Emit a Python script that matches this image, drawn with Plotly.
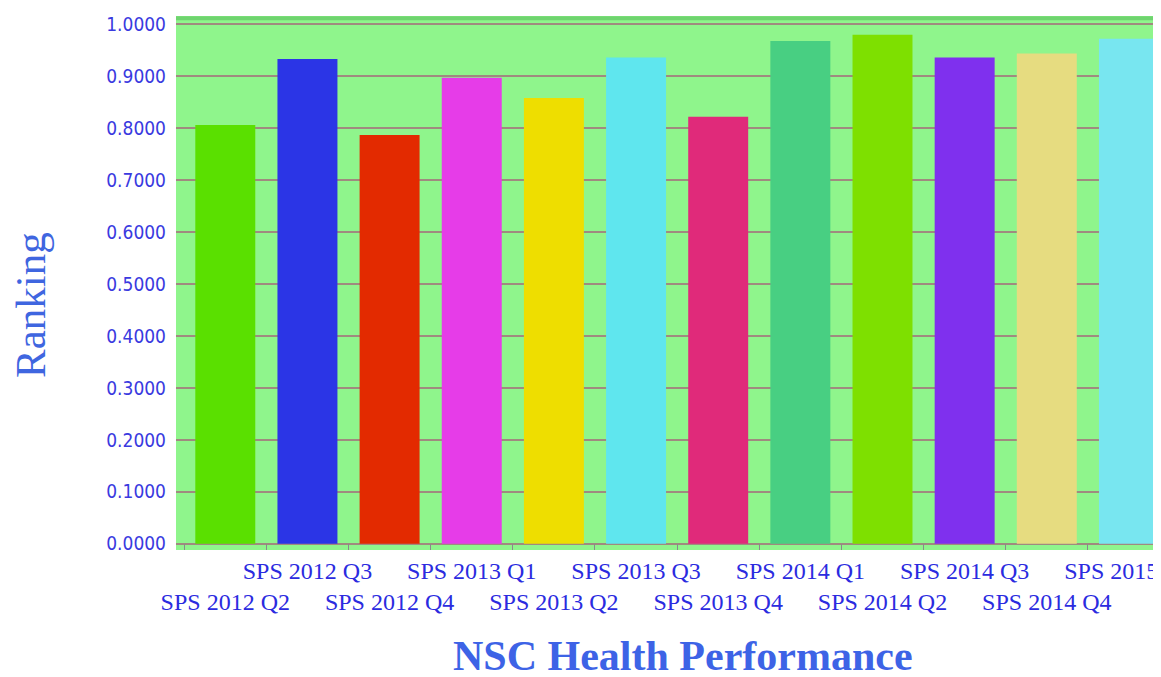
import plotly.graph_objects as go

categories = ["SPS 2012 Q2", "SPS 2012 Q3", "SPS 2012 Q4", "SPS 2013 Q1", "SPS 2013 Q2",
              "SPS 2013 Q3", "SPS 2013 Q4", "SPS 2014 Q1", "SPS 2014 Q2", "SPS 2014 Q3",
              "SPS 2014 Q4", "SPS 2015 Q1"]
ranking = [0.806, 0.933, 0.787, 0.897, 0.858, 0.936, 0.822, 0.968, 0.980, 0.936, 0.944, 0.972]
bar_colors = ["#5ae000", "#2b35e6", "#e32a00", "#e63ce8", "#eede00", "#5fe6ee",
              "#e02a7a", "#48cf82", "#7ee000", "#7f30ee", "#e6dc80", "#78e6f0"]
y_ticks = [0.0, 0.1, 0.2, 0.3, 0.4, 0.5, 0.6, 0.7, 0.8, 0.9, 1.0]

# staggered labels: even index on lower row, odd on upper row
tick_text = [("\u00a0<br>" + c) if i % 2 == 0 else c for i, c in enumerate(categories)]

W, H = 1161, 677
fig = go.Figure()
fig.add_trace(go.Bar(
    x=categories, y=ranking,
    marker=dict(color=bar_colors, line=dict(width=0)),
    showlegend=False,
))

fig.update_layout(
    template="none",
    width=W, height=H,
    margin=dict(l=168, r=8, t=8, b=H - 542, autoexpand=False),
    paper_bgcolor="white",
    plot_bgcolor="#8ff58c",
    bargap=0.27,
    xaxis=dict(
        type="category",
        range=[-0.6, 11.39],
        tickmode="array",
        tickvals=categories,
        ticktext=tick_text,
        tickangle=0,
        tickson="boundaries",
        ticks="inside", ticklen=6, tickcolor="#8a8a8a", tickwidth=1,
        ticklabelstandoff=4,
        showgrid=False, zeroline=False, showline=False,
        automargin=False,
        tickfont=dict(family="Liberation Serif, Times New Roman, serif", size=24, color="#2b2bdf"),
    ),
    yaxis=dict(
        range=[-0.012, 1.016],
        tickmode="array",
        tickvals=y_ticks,
        tickformat=".4f",
        ticks="", ticklabelstandoff=9,
        showgrid=True, gridcolor="#a08a7f", gridwidth=1.5,
        zeroline=False, showline=False,
        automargin=False,
        tickfont=dict(family="DejaVu Sans Condensed, Liberation Sans Narrow, sans-serif", size=19, color="#3a3adf"),
    ),
    annotations=[
        dict(text="<b>NSC Health Performance</b>", xref="paper", yref="paper",
             x=0.515, y=0, xanchor="center", yanchor="middle", yshift=-106, showarrow=False,
             borderpad=0,
             font=dict(family="Liberation Serif, Times New Roman, serif", size=42, color="#3d63e6")),
        dict(text="Ranking", xref="paper", yref="paper", textangle=-90,
             x=0, y=0.4588, xanchor="center", yanchor="middle", xshift=-146, showarrow=False,
             borderpad=0,
             font=dict(family="Liberation Serif, Times New Roman, serif", size=43, color="#3f66e0")),
    ],
    shapes=[dict(type="line", xref="paper", yref="paper", x0=0, x1=1, y0=0.996, y1=0.996,
                 line=dict(color="#6fd46f", width=4), layer="below")],
)

fig.write_html("out.html")
